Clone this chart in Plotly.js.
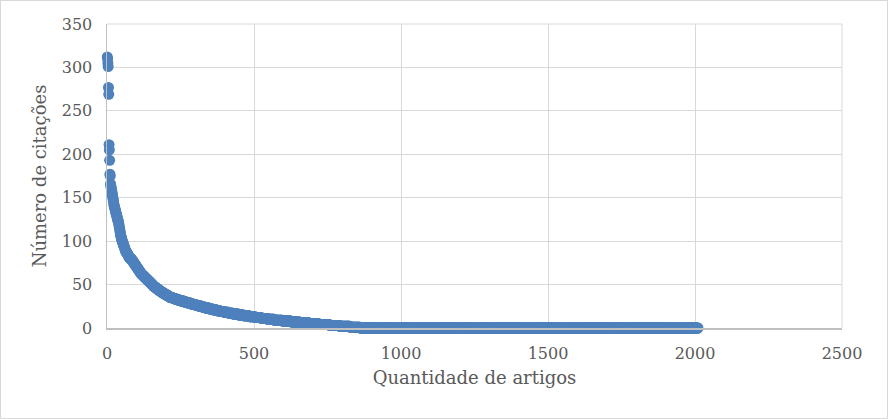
<!DOCTYPE html>
<html>
<head>
<meta charset="utf-8">
<script src="https://cdn.plot.ly/plotly-3.0.1.min.js"></script>
<style>
    body { margin: 0; background: #fff; }
    #chart { width: 886px; height: 417px; border: 1px solid #d9d9d9; }
</style>
</head>
<body>
<div id="chart"></div>
<script>
// Citações dos artigos mais citados, em ordem decrescente (um valor por artigo)
const citacoesTopo = [
    312, 310, 305, 301, 277, 269, 211, 205, 193, 177, 175,
    166, 164, 162, 160, 158, 156, 154, 152, 150, 148, 146, 143, 141,
    140, 139, 137, 136, 135, 133, 132, 131, 129, 128, 127, 125, 124, 123, 122,
    120, 118, 116, 114, 112, 110, 108, 106, 105, 104, 102,
    101, 100, 99, 98, 97, 96, 95, 94, 93, 92, 91, 90, 89, 88, 88, 87, 87, 86, 86, 85, 85, 84, 83
];

// Restante: número de citações e quantos artigos têm esse valor
const valoresCauda = [
    82, 81, 80, 79, 78, 77, 76, 75, 74, 73, 72,
    71, 70, 69, 68, 67, 66, 65, 64,
    63, 62, 61, 60, 59, 58, 57, 56, 55, 54, 53, 52, 51, 50, 49,
    48, 47, 46, 45, 44, 43, 42, 41, 40, 39, 38, 37, 36,
    35, 34, 33, 32, 31, 30,
    29, 28, 27, 26, 25, 24, 23, 22, 21, 20,
    19, 18, 17, 16, 15, 14, 13, 12, 11, 10,
    9, 8, 7, 6, 5, 4, 3, 2, 1, 0
];
const artigosCauda = [
    2, 3, 3, 3, 2, 2, 2, 2, 2, 2, 2,
    2, 2, 2, 2, 2, 2, 2, 2,
    2, 3, 3, 3, 3, 3, 3, 3, 3, 3, 3, 3, 3, 3, 2,
    4, 4, 4, 4, 4, 4, 5, 4, 5, 5, 5, 4, 5,
    9, 9, 9, 10, 10, 10,
    10, 10, 11, 11, 11, 11, 12, 12, 12, 13,
    14, 15, 16, 17, 18, 19, 20, 21, 22, 22,
    28, 29, 30, 31, 34, 36, 35, 35, 35, 1149
];

// Monta a série (posição do artigo x número de citações)
const citacoes = citacoesTopo.slice();
valoresCauda.forEach((v, i) => {
    for (let k = 0; k < artigosCauda[i]; k++) citacoes.push(v);
});
const artigos = citacoes.map((_, i) => i + 1);

const fonte = 'Georgia, "DejaVu Serif", serif';
const cinzaTexto = '#595959';

const trace = {
    x: artigos,
    y: citacoes,
    type: 'scatter',
    mode: 'markers',
    cliponaxis: false,
    marker: { color: '#4f81bd', size: 11, line: { width: 0 } },
    hoverinfo: 'x+y'
};

const layout = {
    width: 886,
    height: 417,
    margin: { l: 106, r: 45, t: 23, b: 90 },
    paper_bgcolor: '#ffffff',
    plot_bgcolor: '#ffffff',
    showlegend: false,
    font: { family: fonte, color: cinzaTexto, size: 16 },
    xaxis: {
        range: [0, 2500],
        dtick: 500,
        tick0: 0,
        showgrid: true,
        gridcolor: '#d9d9d9',
        zeroline: false,
        showline: true,
        linecolor: '#bfbfbf',
        linewidth: 1.5,
        ticks: '',
        ticklabelstandoff: 10,
        tickfont: { family: fonte, size: 16, color: cinzaTexto },
        title: { text: 'Quantidade de artigos', font: { family: fonte, size: 18, color: cinzaTexto }, standoff: 9 }
    },
    yaxis: {
        range: [0, 350],
        dtick: 50,
        tick0: 0,
        showgrid: true,
        gridcolor: '#d9d9d9',
        zeroline: false,
        showline: true,
        linecolor: '#bfbfbf',
        linewidth: 1.5,
        ticks: '',
        ticklabelstandoff: 10,
        tickfont: { family: fonte, size: 16, color: cinzaTexto },
        title: { text: 'Número de citações', font: { family: fonte, size: 18, color: cinzaTexto }, standoff: 10 }
    },
    shapes: [
        // bordas superior e direita da área do gráfico
        { type: 'line', xref: 'paper', yref: 'paper', x0: 0, x1: 1, y0: 1, y1: 1, line: { color: '#d9d9d9', width: 1 } },
        { type: 'line', xref: 'paper', yref: 'paper', x0: 1, x1: 1, y0: 0, y1: 1, line: { color: '#d9d9d9', width: 1 } }
    ]
};

Plotly.newPlot('chart', [trace], layout, { displayModeBar: false, staticPlot: true });
</script>
</body>
</html>
